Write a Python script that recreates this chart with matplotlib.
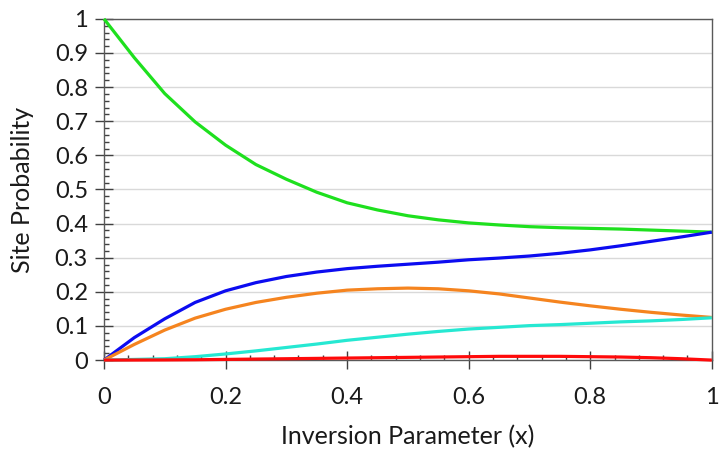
import numpy as np
import matplotlib
matplotlib.use("Agg")
import matplotlib.pyplot as plt
from matplotlib.ticker import MultipleLocator

plt.rcParams['font.family'] = ['Lato', 'DejaVu Sans']

# values at steps of 0.05
x = [0.0, 0.05, 0.1, 0.15, 0.2, 0.25, 0.3, 0.35, 0.4, 0.45, 0.5,
     0.55, 0.6, 0.65, 0.7, 0.75, 0.8, 0.85, 0.9, 0.95, 1.0]
green = [1.0, 0.886, 0.781, 0.698, 0.630, 0.573, 0.530, 0.492, 0.461, 0.440, 0.423,
         0.411, 0.402, 0.396, 0.391, 0.388, 0.386, 0.384, 0.381, 0.378, 0.375]
blue = [0.0, 0.066, 0.121, 0.169, 0.203, 0.227, 0.245, 0.258, 0.268, 0.275, 0.281,
        0.287, 0.294, 0.299, 0.305, 0.313, 0.323, 0.335, 0.348, 0.361, 0.375]
orange = [0.0, 0.046, 0.088, 0.123, 0.149, 0.169, 0.184, 0.196, 0.205, 0.209, 0.211,
          0.209, 0.203, 0.194, 0.182, 0.170, 0.159, 0.149, 0.140, 0.132, 0.125]
cyan = [0.0, 0.002, 0.004, 0.010, 0.018, 0.027, 0.037, 0.047, 0.058, 0.067, 0.076,
        0.084, 0.091, 0.096, 0.101, 0.104, 0.108, 0.112, 0.115, 0.119, 0.124]
red = [0.0, 0.0002, 0.0005, 0.001, 0.002, 0.003, 0.004, 0.005, 0.006, 0.007, 0.008,
       0.009, 0.01, 0.011, 0.011, 0.011, 0.01, 0.009, 0.007, 0.004, 0.0]

series = [(green, '#1ee01e'), (blue, '#0c0cf0'), (orange, '#f5841f'),
          (cyan, '#26e8d2'), (red, '#ff0a0a')]

fig = plt.figure(figsize=(7.19, 4.49), dpi=100)
ax = fig.add_axes([0.1446, 0.198, 0.8454, 0.760])

for ys, c in series:
    ax.plot(x, ys, color=c, lw=2.3, clip_on=False, zorder=3,
            solid_capstyle='butt', solid_joinstyle='round')

ax.set_xlim(0, 1)
ax.set_ylim(0, 1)
ax.xaxis.set_major_locator(MultipleLocator(0.2))
ax.xaxis.set_minor_locator(MultipleLocator(0.04))
ax.yaxis.set_major_locator(MultipleLocator(0.1))
ax.yaxis.set_minor_locator(MultipleLocator(0.02))
ax.xaxis.set_major_formatter(plt.FuncFormatter(lambda v, p: '%g' % round(v, 2)))
ax.yaxis.set_major_formatter(plt.FuncFormatter(lambda v, p: '%g' % round(v, 2)))

ax.grid(axis='y', which='major', color='#d9d9d9', lw=1.0, zorder=0)
ax.set_axisbelow(True)

for s in ax.spines.values():
    s.set_color('#595959')
    s.set_linewidth(1.0)

ax.tick_params(which='major', direction='inout', length=13, width=1,
               color='#404040', labelsize=17, labelcolor='#1a1a1a')
ax.tick_params(axis='x', which='major', pad=13)
ax.tick_params(axis='y', which='major', pad=5)
ax.tick_params(which='minor', direction='in', length=3.6, width=1,
               color='#404040')
ax.tick_params(axis='y', which='both', right=False)
ax.tick_params(axis='x', which='both', top=False)

ax.set_xlabel('Inversion Parameter (x)', fontsize=18, labelpad=12, color='#1a1a1a')
ax.set_ylabel('Site Probability', fontsize=18, labelpad=15, color='#1a1a1a')

fig.savefig('out.png', dpi=100)
